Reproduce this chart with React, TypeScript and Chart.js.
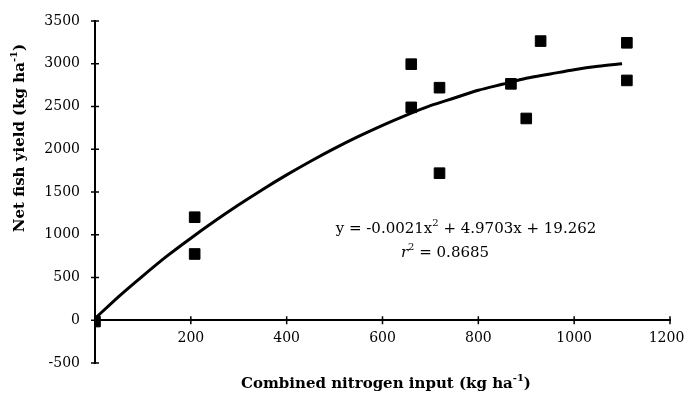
import React, { useEffect, useRef } from "react";
import { Chart, registerables } from "chart.js";

Chart.register(...registerables);

const nitrogenInput = [0, 208, 208, 660, 660, 719, 719, 868, 900, 930, 1110, 1110];
const fishYield = [-15, 1205, 775, 2995, 2490, 2720, 1720, 2765, 2360, 3265, 3245, 2805];

const trendX = [0, 50, 100, 150, 200, 250, 300, 350, 400, 450, 500, 550, 600, 650, 700, 750, 800, 850, 900, 950, 1000, 1050, 1100];
const trendY = [20, 280, 520, 750, 960, 1160, 1350, 1530, 1700, 1860, 2010, 2150, 2280, 2400, 2510, 2600, 2690, 2760, 2830, 2880, 2930, 2970, 3000];

const xTicks = [0, 200, 400, 600, 800, 1000, 1200];
const yTicks = [-500, 0, 500, 1000, 1500, 2000, 2500, 3000, 3500];

const FONT = "'DejaVu Serif', 'Liberation Serif', serif";
const FS = 14;
const FT = 15;

function drawWithSup(ctx: CanvasRenderingContext2D, parts: { t: string; sup?: boolean; italic?: boolean }[], x: number, y: number, size: number, bold: boolean) {
  const fontFor = (p: { sup?: boolean; italic?: boolean }) =>
    `${p.italic ? "italic " : ""}${bold ? "bold " : ""}${p.sup ? Math.round(size * 0.65) : size}px ${FONT}`;
  let total = 0;
  for (const p of parts) {
    ctx.font = fontFor(p);
    total += ctx.measureText(p.t).width;
  }
  let cx = x - total / 2;
  ctx.textBaseline = "middle";
  ctx.textAlign = "left";
  for (const p of parts) {
    ctx.font = fontFor(p);
    ctx.fillText(p.t, cx, p.sup ? y - size * 0.35 : y);
    cx += ctx.measureText(p.t).width;
  }
}

const decorPlugin = {
  id: "decor",
  afterDraw(chart: any) {
    const ctx = chart.ctx as CanvasRenderingContext2D;
    const xs = chart.scales.x;
    const ys = chart.scales.y;
    const x0 = xs.getPixelForValue(0);
    const y0 = ys.getPixelForValue(0);
    ctx.save();
    ctx.strokeStyle = "#000";
    ctx.lineWidth = 1.5;
    ctx.beginPath();
    for (const v of xTicks) {
      if (v === 0) continue;
      const px = xs.getPixelForValue(v);
      ctx.moveTo(px, y0 - 4);
      ctx.lineTo(px, y0 + 4);
    }
    for (const v of yTicks) {
      const py = ys.getPixelForValue(v);
      ctx.moveTo(x0 - 4, py);
      ctx.lineTo(x0 + 4, py);
    }
    ctx.stroke();
    ctx.fillStyle = "#000";
    drawWithSup(ctx, [{ t: "Combined nitrogen input (kg ha" }, { t: "-1", sup: true }, { t: ")" }], 386, 384, FT, true);
    ctx.save();
    ctx.translate(20, 138);
    ctx.rotate(-Math.PI / 2);
    drawWithSup(ctx, [{ t: "Net fish yield (kg ha" }, { t: "-1", sup: true }, { t: ")" }], 0, 0, FT, true);
    ctx.restore();
    drawWithSup(ctx, [{ t: "y = -0.0021x" }, { t: "2", sup: true }, { t: " + 4.9703x + 19.262" }], 466, 229, FT, false);
    drawWithSup(ctx, [{ t: "r", italic: true }, { t: "2", sup: true }, { t: " = 0.8685" }], 445, 253, FT, false);
    ctx.restore();
  },
};

export default function App() {
  const ref = useRef<HTMLCanvasElement | null>(null);
  useEffect(() => {
    document.body.style.margin = "0";
    if (!ref.current) return;
    const chart = new Chart(ref.current, {
      type: "scatter",
      data: {
        datasets: [
          {
            type: "line",
            label: "trend",
            data: trendX.map((x, i) => ({ x, y: trendY[i] })),
            borderColor: "#000",
            borderWidth: 3,
            pointRadius: 0,
            showLine: true,
            tension: 0.3,
            fill: false,
          } as any,
          {
            label: "data",
            data: nitrogenInput.map((x, i) => ({ x, y: fishYield[i] })),
            backgroundColor: "#000",
            borderColor: "#000",
            pointStyle: "rect",
            pointRadius: 7.5,
            pointHoverRadius: 7.5,
          },
        ],
      },
      options: {
        animation: false,
        responsive: false,
        maintainAspectRatio: false,
        events: [],
        layout: { padding: { left: 0, right: 14, top: 21, bottom: 37 } },
        plugins: { legend: { display: false }, tooltip: { enabled: false } },
        scales: {
          x: {
            type: "linear",
            position: { y: 0 } as any,
            min: 0,
            max: 1200,
            afterFit: (s: any) => {
              s.paddingLeft = 0;
              s.paddingRight = 0;
            },
            afterBuildTicks: (s: any) => {
              s.ticks = xTicks.map((v) => ({ value: v }));
            },
            grid: { display: false, drawTicks: false },
            border: { display: true, color: "#000", width: 2 },
            ticks: {
              color: "#000",
              font: { family: FONT, size: FS },
              padding: 10,
              maxRotation: 0,
              autoSkip: false,
              callback: (v: any) => (v === 0 ? "" : v === 1200 ? "1200\u2002" : String(v)),
            },
          },
          y: {
            type: "linear",
            position: "left",
            min: -500,
            max: 3500,
            afterFit: (s: any) => {
              s.width = 95;
              s.paddingTop = 0;
              s.paddingBottom = 0;
            },
            afterBuildTicks: (s: any) => {
              s.ticks = yTicks.map((v) => ({ value: v }));
            },
            grid: { display: false, drawTicks: false },
            border: { display: true, color: "#000", width: 2 },
            ticks: {
              color: "#000",
              font: { family: FONT, size: FS },
              padding: 15,
              autoSkip: false,
              callback: (v: any) => String(v),
            },
          },
        },
      },
      plugins: [decorPlugin],
    });
    return () => chart.destroy();
  }, []);
  return (
    <div style={{ width: 684, height: 400 }}>
      <canvas ref={ref} width={684} height={400} style={{ display: "block" }} />
    </div>
  );
}
